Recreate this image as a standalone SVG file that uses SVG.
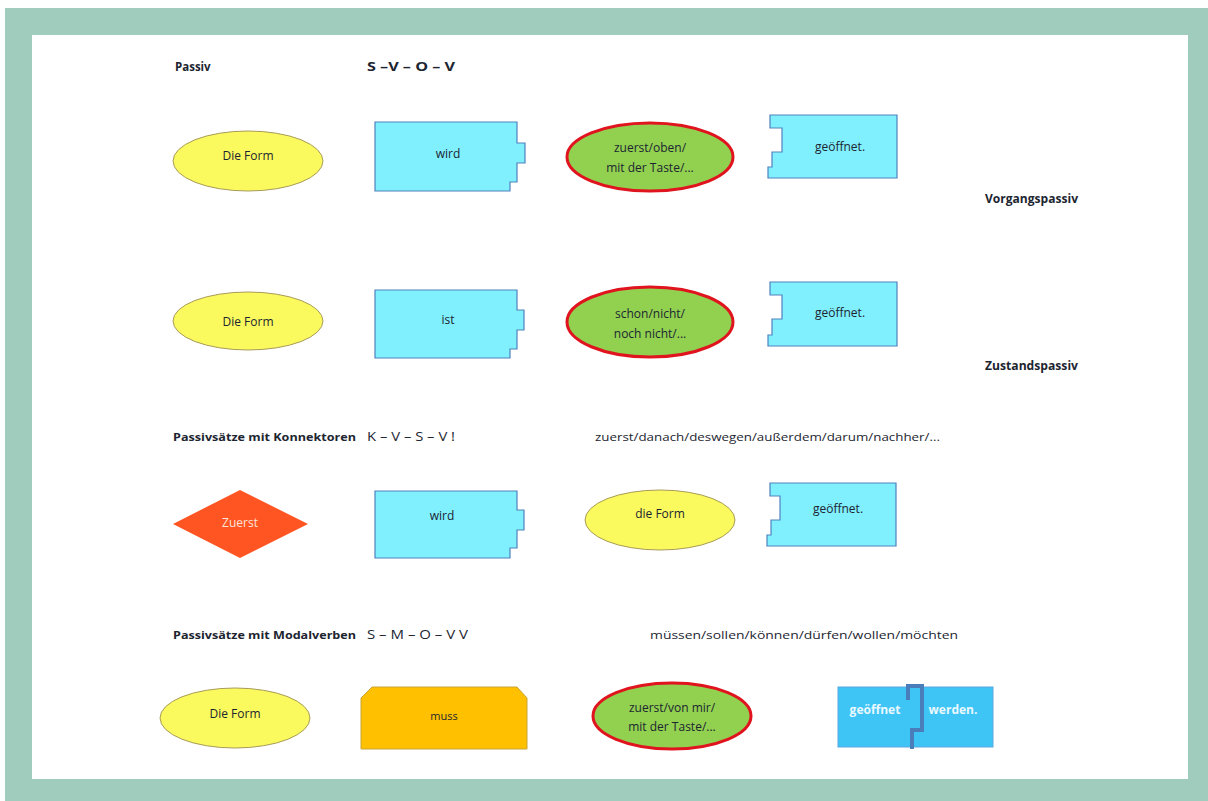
<svg xmlns="http://www.w3.org/2000/svg" width="1208" height="801" viewBox="0 0 1208 801">
<style>
.t{font-family:"Open Sans","Liberation Sans",sans-serif;fill:#1c2530}
.b{font-weight:bold}
.yel{fill:#FAFA5E;stroke:#A89B5A;stroke-width:1}
.cyan{fill:#80F0FF;stroke:#4F81BD;stroke-width:1.2}
.grn{fill:#92D050;stroke:#E0141E;stroke-width:3}
</style>
<rect x="0" y="0" width="1208" height="801" fill="#fdfefe"/>
<rect x="5" y="8" width="1203" height="793" fill="#A0CCBE"/>
<rect x="32" y="35" width="1156" height="744" fill="#ffffff"/>

<g id="headers">
<text class="t b" x="175" y="71" font-size="11.5">Passiv</text>
<text class="t b" x="367" y="71" font-size="12.5" textLength="88" lengthAdjust="spacingAndGlyphs">S –V – O – V</text>
<text class="t b" x="985" y="203" font-size="12" textLength="93" lengthAdjust="spacingAndGlyphs">Vorgangspassiv</text>
<text class="t b" x="985" y="370" font-size="12" textLength="93" lengthAdjust="spacingAndGlyphs">Zustandspassiv</text>
<text class="t b" x="173" y="441" font-size="11" textLength="183" lengthAdjust="spacingAndGlyphs">Passivsätze mit Konnektoren</text>
<text class="t" x="367" y="441" font-size="12.5" textLength="88" lengthAdjust="spacingAndGlyphs">K – V – S – V  !</text>
<text class="t" x="595" y="441" font-size="11.5" textLength="345" lengthAdjust="spacingAndGlyphs">zuerst/danach/deswegen/außerdem/darum/nachher/...</text>
<text class="t b" x="173" y="639" font-size="11" textLength="183" lengthAdjust="spacingAndGlyphs">Passivsätze mit Modalverben</text>
<text class="t" x="367" y="639" font-size="12.5" textLength="101" lengthAdjust="spacingAndGlyphs">S – M – O – V V</text>
<text class="t" x="650" y="639" font-size="11.5" textLength="308" lengthAdjust="spacingAndGlyphs">müssen/sollen/können/dürfen/wollen/möchten</text>
</g>

<!-- Row 1 -->
<g id="r1-form">
<ellipse class="yel" cx="248" cy="161" rx="75" ry="30"/>
<text class="t" x="248" y="160" font-size="12" text-anchor="middle">Die Form</text>
</g>
<g id="r1-wird">
<path class="cyan" d="M375,122 H517 V143 H525 V163 H517 V182 H510 V191 H375 Z"/>
<text class="t" x="448" y="158" font-size="12" text-anchor="middle">wird</text>
</g>
<g id="r1-adv">
<ellipse class="grn" cx="650" cy="157" rx="83" ry="34"/>
<text class="t" x="650" y="152" font-size="12" text-anchor="middle">zuerst/oben/</text>
<text class="t" x="650" y="172" font-size="12" text-anchor="middle">mit der Taste/...</text>
</g>
<g id="r1-geoeffnet">
<path class="cyan" d="M770,115 H897 V178 H768 V167 H772 V152 H782 V128 H770 Z"/>
<text class="t" x="840" y="151" font-size="12" text-anchor="middle">geöffnet.</text>
</g>

<!-- Row 2 -->
<g id="r2-form">
<ellipse class="yel" cx="248" cy="321" rx="75" ry="29"/>
<text class="t" x="248" y="326" font-size="12" text-anchor="middle">Die Form</text>
</g>
<g id="r2-ist">
<path class="cyan" d="M375,290 H517 V310 H524 V330 H517 V349 H510 V358 H375 Z"/>
<text class="t" x="448" y="324" font-size="12" text-anchor="middle">ist</text>
</g>
<g id="r2-adv">
<ellipse class="grn" cx="650" cy="322" rx="83" ry="35"/>
<text class="t" x="650" y="318" font-size="12" text-anchor="middle">schon/nicht/</text>
<text class="t" x="650" y="338" font-size="12" text-anchor="middle">noch nicht/...</text>
</g>
<g id="r2-geoeffnet">
<path class="cyan" d="M770,282 H897 V346 H768 V335 H772 V319 H782 V295 H770 Z"/>
<text class="t" x="840" y="317" font-size="12" text-anchor="middle">geöffnet.</text>
</g>

<!-- Row 3 -->
<g id="r3-zuerst">
<polygon points="240,490 308,524 240,558 173,524" fill="#FF5522"/>
<text x="240" y="527" font-size="12" text-anchor="middle" font-family="'Open Sans','Liberation Sans',sans-serif" fill="#fde4da">Zuerst</text>
</g>
<g id="r3-wird">
<path class="cyan" d="M375,491 H517 V510 H524 V530 H517 V548 H510 V558 H375 Z"/>
<text class="t" x="442" y="520" font-size="12" text-anchor="middle">wird</text>
</g>
<g id="r3-form">
<ellipse class="yel" cx="660" cy="520" rx="75" ry="30"/>
<text class="t" x="660" y="518" font-size="12" text-anchor="middle">die Form</text>
</g>
<g id="r3-geoeffnet">
<path class="cyan" d="M770,483 H896 V546 H767 V535 H771 V520 H780 V496 H770 Z"/>
<text class="t" x="838" y="513" font-size="12" text-anchor="middle">geöffnet.</text>
</g>

<!-- Row 4 -->
<g id="r4-form">
<ellipse class="yel" cx="235" cy="718" rx="75" ry="30"/>
<text class="t" x="235" y="718" font-size="12" text-anchor="middle">Die Form</text>
</g>
<g id="r4-muss">
<path d="M372,687 H517 L527,698 V749 H361 V698 Z" fill="#FFC000" stroke="#C9A43A" stroke-width="1"/>
<text class="t" x="444" y="720" font-size="11" text-anchor="middle">muss</text>
</g>
<g id="r4-adv">
<ellipse class="grn" cx="672" cy="716" rx="79" ry="33"/>
<text class="t" x="672" y="712" font-size="12" text-anchor="middle">zuerst/von mir/</text>
<text class="t" x="672" y="731" font-size="12" text-anchor="middle">mit der Taste/...</text>
</g>
<g id="r4-verb">
<rect x="838" y="687" width="155" height="60" fill="#3EC5F5" stroke="#5AA8E0" stroke-width="1"/>
<path d="M908,700 V686 H922 V730 H912 V749" fill="none" stroke="#4A7EBB" stroke-width="4"/>
<text x="875" y="714" font-size="12" font-weight="bold" text-anchor="middle" font-family="'Open Sans','Liberation Sans',sans-serif" fill="#eaf8ff">geöffnet</text>
<text x="953" y="714" font-size="12" font-weight="bold" text-anchor="middle" font-family="'Open Sans','Liberation Sans',sans-serif" fill="#eaf8ff">werden.</text>
</g>
</svg>
